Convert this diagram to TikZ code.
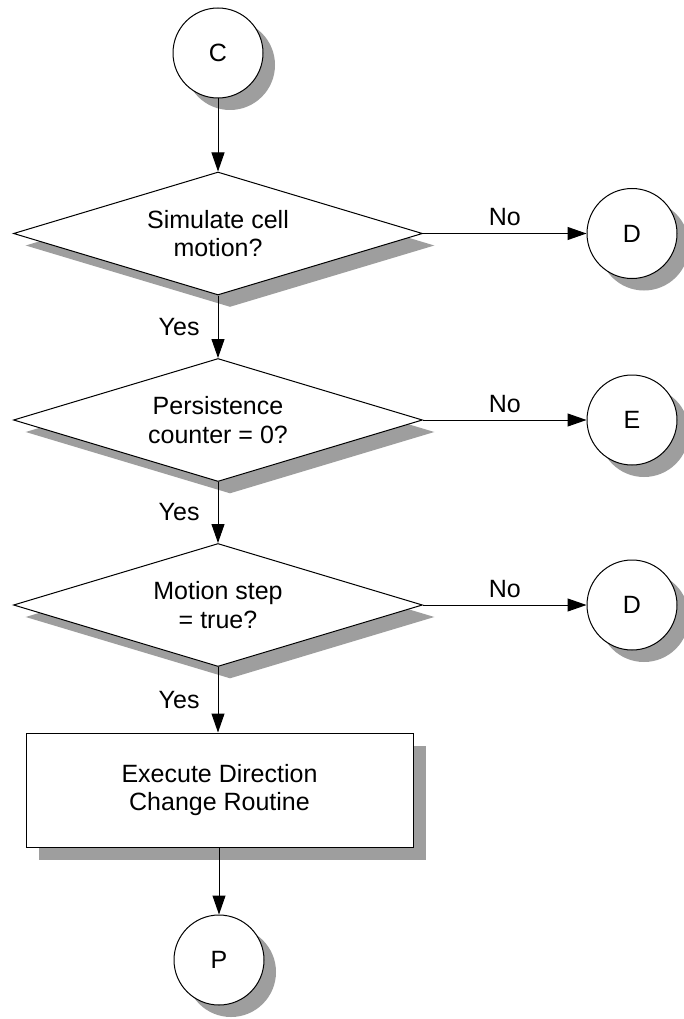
\documentclass[tikz,border=0pt]{standalone}
\usepackage{fontspec}
\setmainfont{Liberation Sans}
\usetikzlibrary{shapes.geometric,arrows.meta,shadows}
\begin{document}
\begin{tikzpicture}[x=1pt,y=-1pt,
  base/.style={draw=black,line width=1pt,fill=white,inner sep=0pt,
    font=\fontsize{25}{28.5}\selectfont,align=center},
  shade/.style={copy shadow={shadow xshift=12pt,shadow yshift=-12pt,
    fill=black!38,draw=none}},
  connector/.style={circle,base,shade,minimum size=90pt},
  decision/.style={diamond,base,shade,shape aspect=3.3,
    minimum width=409pt,minimum height=123pt},
  process/.style={rectangle,base,
    copy shadow={shadow xshift=13pt,shadow yshift=-13pt,fill=black!38,draw=none},
    minimum width=387pt,minimum height=114pt},
  arr/.style={line width=1pt,-{Triangle[length=19pt,width=13pt]}},
  lbl/.style={font=\fontsize{25}{28.5}\selectfont,inner sep=0pt}]
\useasboundingbox (0,0) rectangle (683,1019);
\fill[white] (0,0) rectangle (683,1019);

% main column
\node[connector] (c) at (218,53) {C};
\node[decision] (q1) at (218,233.5) {Simulate cell\\motion?};
\node[decision] (q2) at (218,420) {Persistence\\counter = 0?};
\node[decision] (q3) at (218,605) {Motion step\\= true?};
\node[process] (r) at (219.5,790) {Execute Direction\\Change Routine};
\node[connector] (p) at (219,960) {P};

% off-page connectors on the right
\node[connector] (d1) at (632,233.5) {D};
\node[connector] (e) at (632,420) {E};
\node[connector] (d2) at (632,605) {D};

% vertical flow
\draw[arr] (c.south) -- (q1.north);
\draw[arr] (q1.south) -- node[lbl,midway,left=18pt] {Yes} (q2.north);
\draw[arr] (q2.south) -- node[lbl,midway,left=18pt] {Yes} (q3.north);
\draw[arr] (q3.south) -- node[lbl,midway,left=18pt] {Yes} (r.north-|q3.south);
\draw[arr] (r.south-|p.north) -- (p.north);

% "No" branches
\draw[arr] (q1.east) -- node[lbl,midway,anchor=base,yshift=8pt] {No} (d1.west);
\draw[arr] (q2.east) -- node[lbl,midway,anchor=base,yshift=8pt] {No} (e.west);
\draw[arr] (q3.east) -- node[lbl,midway,anchor=base,yshift=8pt] {No} (d2.west);
\end{tikzpicture}
\end{document}
